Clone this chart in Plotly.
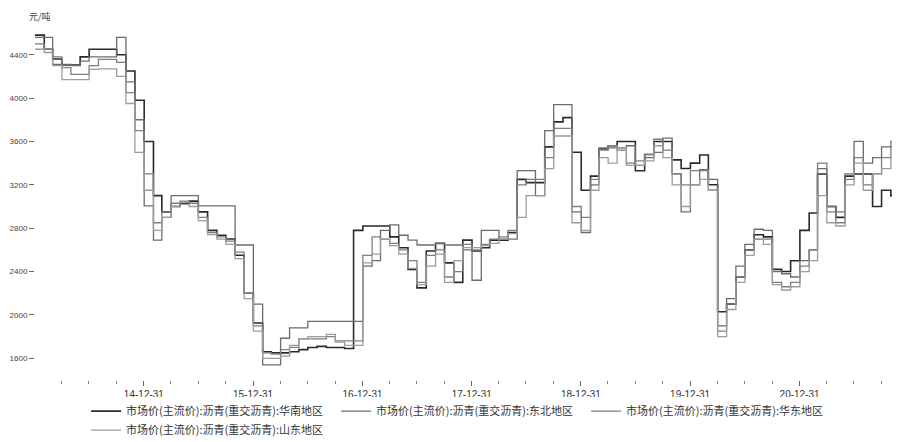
import plotly.graph_objects as go

# ---- data (monthly) ----
months = [f"{y}-{m:02d}-01" for y in range(2014, 2022) for m in range(1, 13)]
dates = months[:-1] + ["2021-12-01", "2021-12-05"]

huanan = [  # 华南 (dark)
    4580, 4450, 4360, 4305, 4305, 4380, 4450, 4450, 4450, 4400, 4250, 3980,
    3600, 3100, 2950, 3000, 3030, 3050, 2950, 2780, 2735, 2700, 2550, 2200,
    1925, 1660, 1650, 1650, 1660, 1680, 1700, 1710, 1700, 1700, 1690, 2780,
    2820, 2820, 2820, 2720, 2620, 2420, 2250, 2590, 2660, 2480, 2300, 2690,
    2590, 2620, 2690, 2690, 2760, 3250, 3220, 3220, 3550, 3780, 3820, 3500,
    3150, 3280, 3530, 3560, 3600, 3600, 3330, 3480, 3600, 3600, 3430, 3350,
    3400, 3475, 3200, 2030, 2100, 2350, 2600, 2740, 2720, 2420, 2400, 2500,
    2780, 2940, 3300, 3000, 2900, 3280, 3300, 3300, 3000, 3150, 3100, 3080, 3080,
]
dongbei = [  # 东北
    4560, 4560, 4310, 4310, 4300, 4340, 4380, 4380, 4380, 4560, 4150, 3800,
    3005, 2690, 2900, 3100, 3100, 3100, 3005, 3005, 3005, 3005, 2645, 2645,
    2100, 1540, 1540, 1785, 1880, 1880, 1940, 1940, 1940, 1940, 1940, 1940,
    2450, 2500, 2780, 2830, 2735, 2690, 2645, 2645, 2660, 2645, 2645, 2600,
    2320, 2780, 2780, 2700, 2700, 3330, 3330, 3100, 3700, 3940, 3940, 2950,
    2760, 3200, 3540, 3540, 3540, 3560, 3380, 3450, 3500, 3630, 3300, 2950,
    3200, 3340, 3250, 1900, 2150, 2450, 2650, 2790, 2780, 2400, 2380, 2350,
    2500, 2600, 3350, 3000, 2950, 3300, 3600, 3400, 3450, 3550, 3550, 3350, 3350,
]
huadong = [  # 华东
    4500, 4450, 4380, 4280, 4218, 4218, 4300, 4357, 4357, 4330, 4050, 3700,
    3300, 2850, 2950, 3030, 3050, 3030, 2900, 2760, 2720, 2680, 2580, 2200,
    1900, 1650, 1640, 1680, 1700, 1780, 1780, 1780, 1800, 1760, 1760, 1760,
    2550, 2720, 2700, 2660, 2600, 2500, 2300, 2550, 2600, 2350, 2400, 2650,
    2600, 2650, 2700, 2720, 2780, 3200, 3250, 3250, 3450, 3720, 3720, 3000,
    2900, 3250, 3520, 3560, 3520, 3400, 3420, 3480, 3620, 3520, 3300, 3200,
    3330, 3330, 3150, 1850, 2100, 2350, 2600, 2700, 2700, 2300, 2260, 2300,
    2450, 2600, 3400, 2950, 2850, 3250, 3450, 3200, 3300, 3450, 3600, 3400, 3400,
]
shandong = [  # 山东
    4450, 4420, 4300, 4170, 4170, 4170, 4264, 4270, 4270, 4200, 3950, 3500,
    3150, 2780, 2900, 3000, 3020, 3000, 2870, 2740, 2700, 2650, 2520, 2150,
    1850, 1600, 1600, 1620, 1720, 1780, 1800, 1800, 1820, 1750, 1720, 1720,
    2480, 2560, 2700, 2640, 2560, 2430, 2280, 2450, 2560, 2300, 2500, 2620,
    2620, 2640, 2660, 2700, 2750, 2900, 3100, 3100, 3350, 3650, 3650, 2850,
    2780, 3150, 3450, 3400, 3540, 3380, 3380, 3420, 3560, 3450, 3200, 3000,
    3200, 3250, 3150, 1800, 2050, 2300, 2550, 2700, 2650, 2280, 2230, 2260,
    2400, 2500, 3100, 2850, 2820, 3200, 3400, 3150, 3300, 3350, 3450, 3300, 3300,
]

names = [
    "市场价(主流价):沥青(重交沥青):华南地区",
    "市场价(主流价):沥青(重交沥青):东北地区",
    "市场价(主流价):沥青(重交沥青):华东地区",
    "市场价(主流价):沥青(重交沥青):山东地区",
]
x_tickvals = ["2014-12-31", "2015-12-31", "2016-12-31", "2017-12-31",
              "2018-12-31", "2019-12-31", "2020-12-31"]
x_ticktext = ["14-12-31", "15-12-31", "16-12-31", "17-12-31",
              "18-12-31", "19-12-31", "20-12-31"]
x_minor = [f"{y}-{md}" for y in range(2014, 2022) for md in ("03-31", "06-30", "09-30")]
y_tickvals = [1600, 2000, 2400, 2800, 3200, 3600, 4000, 4400]

colors = ["#2a2a2a", "#6c6c6c", "#7e7e7e", "#9c9c9c"]
widths = [1.6, 1.3, 1.3, 1.3]

fig = go.Figure()
for ser, nm, c, w in zip([huanan, dongbei, huadong, shandong], names, colors, widths):
    fig.add_trace(go.Scatter(x=dates, y=ser, name=nm, mode="lines",
                             line=dict(color=c, width=w, shape="hv")))

fig.update_layout(
    width=900, height=442,
    margin=dict(l=27, r=7, t=25, b=70, autoexpand=False),
    paper_bgcolor="white", plot_bgcolor="white",
    font=dict(family="Liberation Sans, Noto Sans CJK SC", color="#333"),
    showlegend=True,
    legend=dict(orientation="h", x=0.059, y=-0.048, xanchor="left", yanchor="top",
                font=dict(family="Noto Sans CJK SC", size=11, color="#333"),
                itemwidth=30, tracegroupgap=0, entrywidth=205),
    xaxis=dict(type="date", range=["2014-01-01", "2021-12-05"], automargin=False,
               tickvals=x_tickvals, ticktext=x_ticktext,
               ticks="outside", ticklen=5, tickcolor="#666",
               tickfont=dict(size=10, color="#333"),
               showgrid=False, zeroline=False, showline=False,
               minor=dict(tickvals=x_minor, ticks="outside", ticklen=3, tickcolor="#888")),
    yaxis=dict(range=[1400, 4600], tickvals=y_tickvals, automargin=False,
               ticks="outside", ticklen=5, tickcolor="#666",
               tickfont=dict(size=8, color="#444"),
               showgrid=False, zeroline=False, showline=False),
    annotations=[dict(text="元/吨", xref="paper", yref="paper", x=0, y=1,
                      xanchor="left", yanchor="bottom", xshift=-8, yshift=8, showarrow=False,
                      font=dict(family="Noto Sans CJK SC", size=9, color="#444"))],
)

fig.write_html("out.html")
